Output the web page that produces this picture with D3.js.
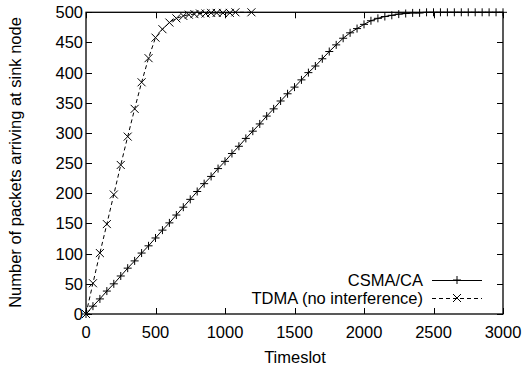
<!DOCTYPE html>
<html><head><meta charset="utf-8">
<script src="https://cdn.jsdelivr.net/npm/d3@7"></script>
<style>body{margin:0;background:#fff}svg{display:block}text{font-family:"Liberation Sans",Arial,sans-serif;fill:#000}</style>
</head><body><svg id="c" width="525" height="368"></svg>
<script>
const xTicks = [0, 500, 1000, 1500, 2000, 2500, 3000];
const yTicks = [0, 50, 100, 150, 200, 250, 300, 350, 400, 450, 500];
const seriesNames = ["CSMA/CA", "TDMA (no interference)"];
const csmaX = [0,50,100,150,200,250,300,350,400,450,500,550,600,650,700,750,800,850,900,950,1000,1050,1100,1150,1200,1250,1300,1350,1400,1450,1500,1550,1600,1650,1700,1750,1800,1850,1900,1950,2000,2050,2100,2150,2200,2250,2300,2350,2400,2450,2500,2550,2600,2650,2700,2750,2800,2850,2900,2950,3000];
const csmaY = [0,13,25,38,50,63,76,88,101,113,126,139,151,164,177,190,203,216,228,241,253,266,278,291,303,315,328,340,353,365,376,388,400,411,423,435,446,457,466,473,480,486,490,493,495,497,498,499,499,500,500,500,500,500,500,500,500,500,500,500,500];
const tdmaX = [0,50,100,150,200,250,300,350,400,450,500,550,600,650,700,740,780,820,860,900,940,985,1035,1075,1190];
const tdmaY = [0,51,101,149,198,247,294,340,384,424,458,472,483,490,494,496,497,498,498,499,499,499,499,500,500];

const FS = 16.5;
const svg = d3.select("#c");
const x = d3.scaleLinear().domain([0, 3000]).range([86, 503]);
const y = d3.scaleLinear().domain([0, 500]).range([314, 12.3]);
const tl = 6;

// ticks (inward, mirrored)
const g = svg.append("g").attr("stroke", "#000").attr("stroke-width", 1);
yTicks.forEach(v => {
  const yy = Math.round(y(v)) + 0.5;
  g.append("line").attr("x1", 86).attr("x2", 86 + tl).attr("y1", yy).attr("y2", yy);
  g.append("line").attr("x1", 503).attr("x2", 503 - tl).attr("y1", yy).attr("y2", yy);
});
xTicks.forEach(v => {
  const xx = Math.round(x(v)) + 0.5;
  g.append("line").attr("x1", xx).attr("x2", xx).attr("y1", 314).attr("y2", 314 - tl);
  g.append("line").attr("x1", xx).attr("x2", xx).attr("y1", 12.3).attr("y2", 12.3 + tl);
});

// tick labels
yTicks.forEach(v => {
  svg.append("text").attr("x", 83).attr("y", y(v)).attr("dy", "0.36em")
    .attr("text-anchor", "end").attr("font-size", FS).text(v);
});
xTicks.forEach(v => {
  svg.append("text").attr("x", x(v)).attr("y", 337.5).attr("text-anchor", "middle")
    .attr("font-size", FS).text(v);
});
svg.append("text").attr("x", 295).attr("y", 362.5).attr("text-anchor", "middle").attr("font-size", FS).text("Timeslot");
svg.append("text").attr("transform", "translate(20.5,162.5) rotate(-90)").attr("text-anchor", "middle")
  .attr("font-size", FS).text("Number of packets arriving at sink node");

// series
const csma = csmaX.map((v, i) => [v, csmaY[i]]);
const tdma = tdmaX.map((v, i) => [v, tdmaY[i]]);
const line = d3.line().x(d => x(d[0])).y(d => y(d[1]));
svg.append("path").attr("d", line(csma)).attr("fill", "none").attr("stroke", "#000").attr("stroke-width", 1);
svg.append("path").attr("d", line(tdma)).attr("fill", "none").attr("stroke", "#000").attr("stroke-width", 1).attr("stroke-dasharray", "4,3");

function plus(px, py) {
  return `M${px-4},${py}H${px+4}M${px},${py-4}V${py+4}`;
}
function cross(px, py) {
  return `M${px-4},${py-4}L${px+4},${py+4}M${px-4},${py+4}L${px+4},${py-4}`;
}
svg.append("path").attr("d", csma.map(d => plus(x(d[0]), y(d[1]))).join(""))
  .attr("stroke", "#000").attr("stroke-width", 1).attr("fill", "none");
svg.append("path").attr("d", tdma.map(d => cross(x(d[0]), y(d[1]))).join(""))
  .attr("stroke", "#000").attr("stroke-width", 1).attr("fill", "none");

// legend
const legY = [280, 298];
seriesNames.forEach((n, i) => {
  svg.append("text").attr("x", 423).attr("y", legY[i]).attr("dy", "0.36em").attr("text-anchor", "end")
    .attr("font-size", FS).text(n);
  const ln = svg.append("line").attr("x1", 432).attr("x2", 482).attr("y1", legY[i] + 0.5).attr("y2", legY[i] + 0.5)
    .attr("stroke", "#000").attr("stroke-width", 1);
  if (i === 1) ln.attr("stroke-dasharray", "4,3");
  svg.append("path").attr("d", i === 0 ? plus(457, legY[i]) : cross(457, legY[i]))
    .attr("stroke", "#000").attr("stroke-width", 1);
});

// border
svg.append("rect").attr("x", 86).attr("y", 12.3).attr("width", 503 - 86).attr("height", 314 - 12.3)
  .attr("fill", "none").attr("stroke", "#000").attr("stroke-width", 1.3);
</script></body></html>
